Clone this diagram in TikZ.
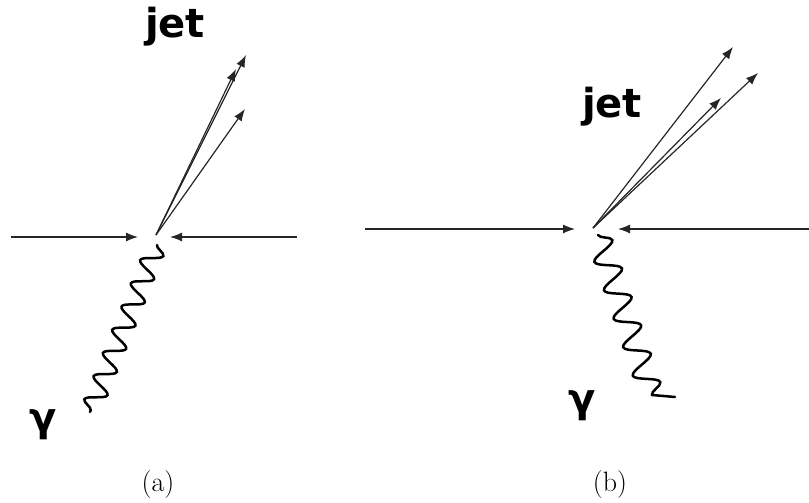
\documentclass[tikz,border=0pt]{standalone}
\usepackage{fontspec}
\newfontfamily\labelfont{DejaVu Sans}
\usetikzlibrary{arrows.meta,decorations.pathmorphing}

\begin{document}
\begin{tikzpicture}[x=1pt, y=1pt,
  beam/.style={line width=1.2pt, black!85, -{Latex[length=12pt,width=9pt]}},
  photon/.style={line width=2.5pt, line cap=round, decorate,
    decoration={snake, amplitude=10pt, segment length=25pt}},
  partlabel/.style={font=\labelfont\bfseries\fontsize{40}{44}\selectfont},
  caption/.style={font=\fontsize{28}{32}\selectfont}]
  \useasboundingbox (0,0) rectangle (809,503);

  % (a)
  \coordinate (A) at (156,268);
  \coordinate (aL) at (11,266);
  \coordinate (aLe) at (138,266);
  \coordinate (aR) at (297,266);
  \coordinate (aRe) at (170,266);
  \coordinate (aJ1) at (246,448);
  \coordinate (aJ2) at (236,434);
  \coordinate (aJ3) at (245,394);
  \coordinate (aP) at (157,258);
  \coordinate (aPe) at (90,91);

  \draw[beam] (aL)--(aLe);
  \draw[beam] (aR)--(aRe);
  \draw[beam] (A)--(aJ1);
  \draw[beam] (A)--(aJ2);
  \draw[beam] (A)--(aJ3);
  \draw[photon] (aP)--(aPe);

  \node[partlabel] (ajet) at (175,476) {jet};
  \node[partlabel] (agam) at (43,78) {γ};
  \node[caption] (acap) at (158,18) {(a)};

  % (b)
  \coordinate (B) at (593,275);
  \coordinate (bL) at (365,274);
  \coordinate (bLe) at (575,274);
  \coordinate (bR) at (809,274);
  \coordinate (bRe) at (618,274);
  \coordinate (bJ1) at (733,456);
  \coordinate (bJ2) at (758,430);
  \coordinate (bJ3) at (721,405);
  \coordinate (bP) at (598,268);
  \coordinate (bPe) at (652,108);
  \coordinate (bT) at (675,106);

  \draw[beam] (bL)--(bLe);
  \draw[beam] (bR)--(bRe);
  \draw[beam] (B)--(bJ1);
  \draw[beam] (B)--(bJ2);
  \draw[beam] (B)--(bJ3);
  \draw[photon, decoration={amplitude=12pt, segment length=30pt}] (bP)--(bPe);
  \draw[line width=2.5pt, line cap=round] (bPe)--(bT);

  \node[partlabel] (bjet) at (612,396) {jet};
  \node[partlabel] (bgam) at (582,97) {γ};
  \node[caption] (bcap) at (610,18) {(b)};
\end{tikzpicture}
\end{document}
